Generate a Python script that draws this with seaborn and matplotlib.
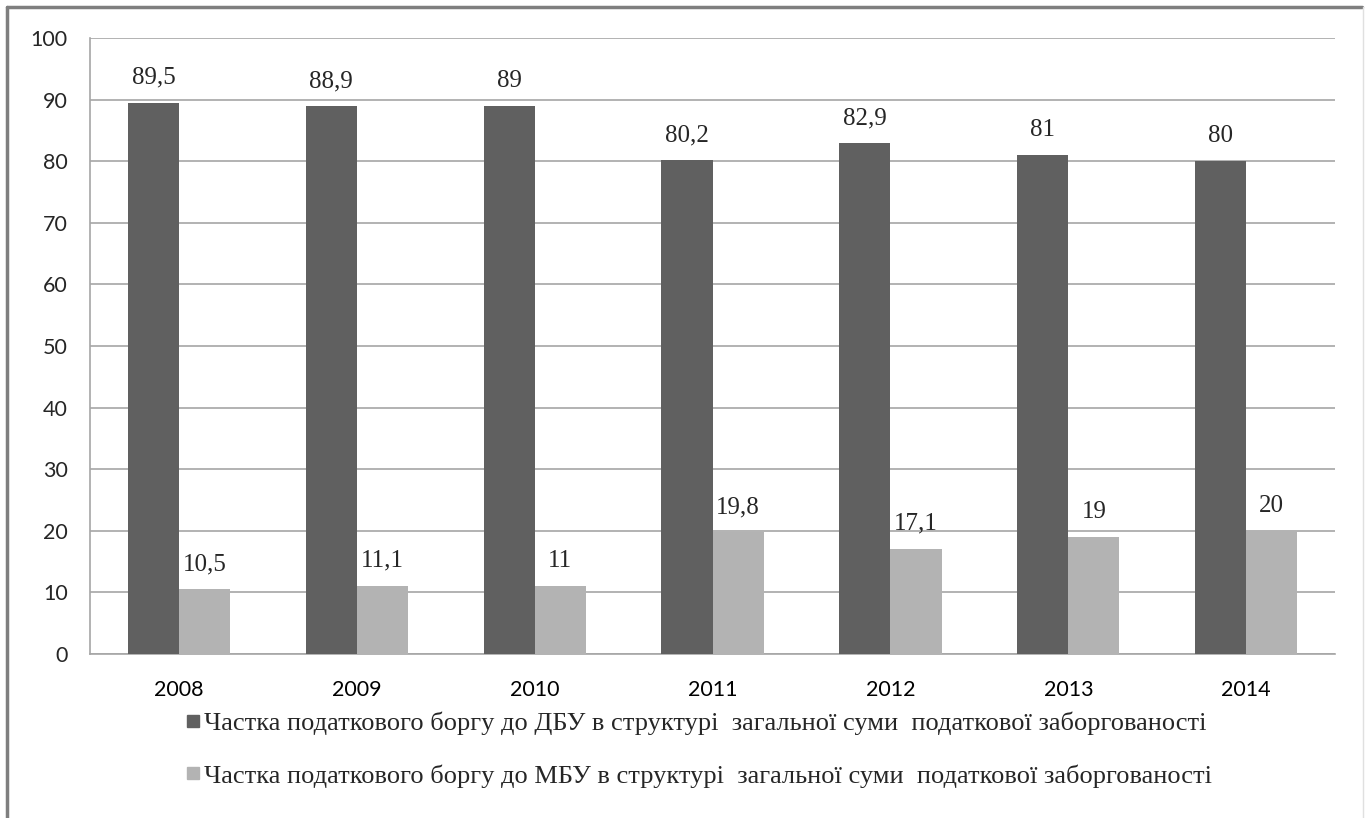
import matplotlib
matplotlib.use("Agg")
import matplotlib.pyplot as plt
import seaborn as sns
import pandas as pd
from matplotlib.lines import Line2D

years = ["2008", "2009", "2010", "2011", "2012", "2013", "2014"]
dbu = [89.5, 88.9, 89, 80.2, 82.9, 81, 80]
mbu = [10.5, 11.1, 11, 19.8, 17.1, 19, 20]
dbu_labels = ["89,5", "88,9", "89", "80,2", "82,9", "81", "80"]
mbu_labels = ["10,5", "11,1", "11", "19,8", "17,1", "19", "20"]
series = ["Частка податкового боргу до ДБУ в структурі  загальної суми  податкової заборгованості",
          "Частка податкового боргу до МБУ в структурі  загальної суми  податкової заборгованості"]
yticks = [0, 10, 20, 30, 40, 50, 60, 70, 80, 90, 100]

df = pd.DataFrame({
    "year": years * 2,
    "value": dbu + mbu,
    "series": [series[0]] * len(years) + [series[1]] * len(years),
    "label": dbu_labels + mbu_labels,
})

sns.set_theme(style="white")
fig = plt.figure(figsize=(13.68, 8.18), dpi=100)
ax = fig.add_axes([0.0658, 0.2005, 0.9102, 0.753])

palette = {series[0]: "#606060", series[1]: "#b3b3b3"}
sns.barplot(data=df, x="year", y="value", hue="series", palette=palette,
            width=0.575, saturation=1, ax=ax, legend=False, zorder=3,
            linewidth=0, edgecolor="none")

ax.set_ylim(0, 100)
ax.set_xlim(-0.5, len(years) - 0.5)
ax.set_yticks(yticks)
ax.set_xlabel("")
ax.set_ylabel("")
ax.yaxis.grid(True, color="#a6a6a6", linewidth=1.2, zorder=0)
ax.set_axisbelow(True)
for s in ["top", "right"]:
    ax.spines[s].set_visible(False)
ax.spines["left"].set_color("#a6a6a6")
ax.spines["bottom"].set_color("#a6a6a6")
ax.spines["left"].set_linewidth(1.2)
ax.spines["bottom"].set_linewidth(1.2)

# x ticks at category boundaries
ax.set_xticks([i for i in range(len(years))])
ax.set_xticklabels(years)
ax.tick_params(axis="x", length=0, pad=19, labelsize=15.5, labelcolor="#000000")
ax.set_xticks([i - 0.5 for i in range(len(years) + 1)], minor=True)
ax.tick_params(axis="x", which="minor", length=8, width=1.2, color="#a6a6a6", direction="out")
ax.tick_params(axis="y", length=8, width=1.2, color="#a6a6a6", direction="out", labelsize=15.5, pad=8)
for lab in ax.get_xticklabels() + ax.get_yticklabels():
    lab.set_family("Lato")

# value labels
for cont, labs in zip(ax.containers, [dbu_labels, mbu_labels]):
    ax.bar_label(cont, labels=labs, padding=10, fontsize=18, family="Liberation Serif")

# legend
handles = [Line2D([], [], marker="s", linestyle="none", markersize=9,
                  markerfacecolor=palette[s], markeredgecolor=palette[s]) for s in series]
leg = fig.legend(handles, series, loc="upper left", bbox_to_anchor=(0.118, 0.159),
                 bbox_transform=fig.transFigure, frameon=False, handlelength=0.6,
                 handletextpad=0.1, labelspacing=1.1,
                 prop={"family": "Liberation Serif", "size": 19})

# outer frame (top and left)
fig.add_artist(Line2D([7 / 1368, 7 / 1368], [0, 1 - 7 / 818], transform=fig.transFigure,
                      color="#7f7f7f", linewidth=2.5))
fig.add_artist(Line2D([7 / 1368, 1362 / 1368], [1 - 7 / 818, 1 - 7 / 818], transform=fig.transFigure,
                      color="#7f7f7f", linewidth=2.5))
fig.add_artist(Line2D([1363 / 1368, 1363 / 1368], [0, 1 - 7 / 818], transform=fig.transFigure,
                      color="#e0e0e0", linewidth=1))

fig.savefig("out.png", dpi=100)
